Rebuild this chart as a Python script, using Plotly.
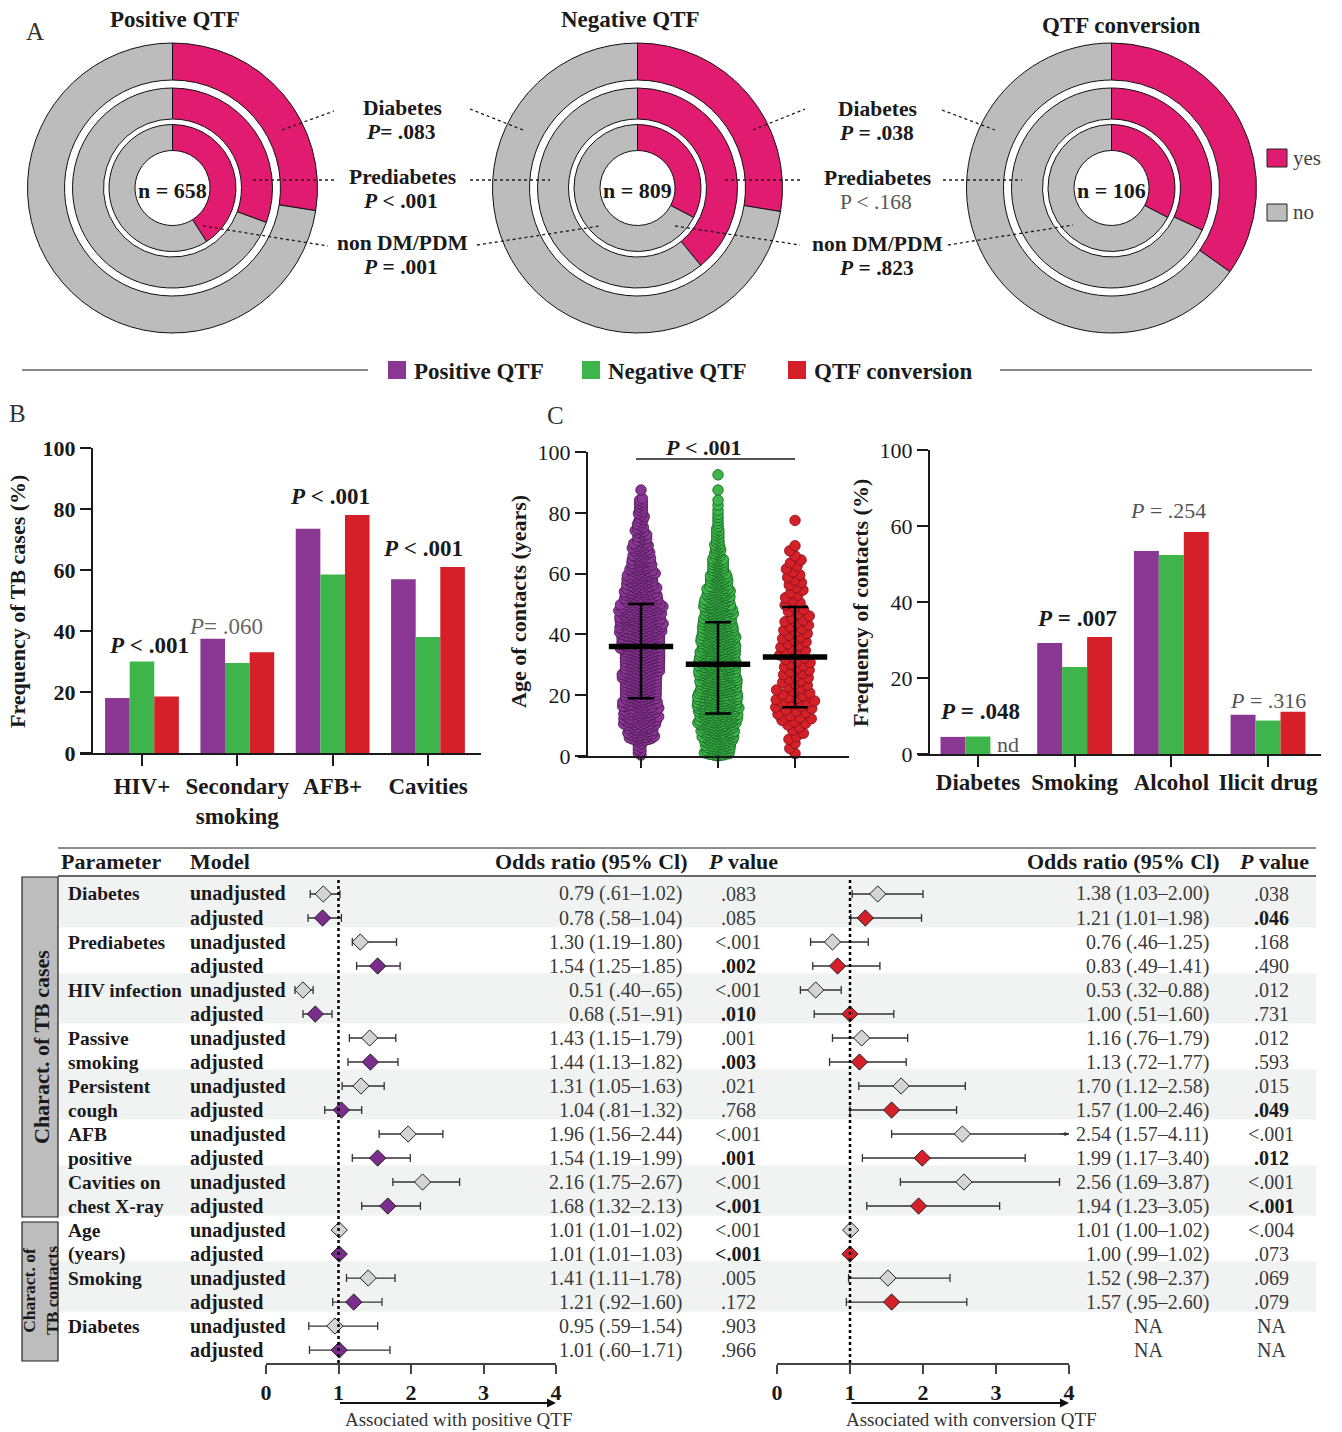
import math
import plotly.graph_objects as go

W, H = 1342, 1432
FONT = "Liberation Serif"
INK = "#1a1a1a"
TXT = "#3a3a3a"
PURPLE = "#8a3793"
GREEN = "#3db54a"
RED = "#d5202a"
PINK = "#e01b70"
GREY = "#bcbcbc"
BAND = "#f1f3f3"

def px(x):
    return x / W

def py(y):
    return 1 - y / H

# ---------------- DATA ----------------
# Panel A : % "yes" for the three rings (outer -> inner)
donut_titles = ["Positive QTF", "Negative QTF", "QTF conversion"]
donut_n = ["658", "809", "106"]
ring_labels = ["Diabetes", "Prediabetes", "non DM/PDM"]
yes_positive = [27.5, 30.6, 41.0]
yes_negative = [27.6, 39.1, 32.7]
yes_conversion = [34.8, 31.9, 32.7]
p_pos_vs_neg = ["<i>P</i>= .083", "<i>P</i> < .001", "<i>P</i> = .001"]
p_neg_vs_conv = ["<i>P</i> = .038", "P < .168", "<i>P</i> = .823"]
p_neg_vs_conv_bold = [True, False, True]

# Panel B : frequency of TB cases (%)
b_categories = ["HIV+", "Secondary<br>smoking", "AFB+", "Cavities"]
b_positive = [18.0, 37.5, 73.5, 57.0]
b_negative = [30.0, 29.5, 58.5, 38.0]
b_conversion = [18.5, 33.0, 78.0, 61.0]
b_pvalues = ["<b><i>P</i> < .001</b>", "<i>P</i>= .060", "<b><i>P</i> < .001</b>", "<b><i>P</i> < .001</b>"]

# Panel C left : age of contacts, counts per 5-year bin (0-5, 5-10, ...)
age_bin_width = 5
age_counts_positive = [8, 38, 48, 48, 50, 52, 55, 58, 62, 60, 48, 40, 32, 24, 15, 10, 9, 1]
age_counts_negative = [50, 62, 74, 78, 74, 72, 72, 68, 62, 56, 46, 36, 26, 14, 9, 5, 3, 1, 1]
age_counts_conversion = [3, 5, 10, 12, 10, 10, 10, 9, 9, 7, 6, 6, 5, 3, 0, 1]
age_mean = [36.0, 30.2, 32.6]
age_sd_low = [19.0, 14.0, 16.0]
age_sd_high = [50.0, 44.0, 49.0]

# Panel C right : frequency of contacts (%)
c_categories = ["Diabetes", "Smoking", "Alcohol", "Ilicit drug"]
c_positive = [4.5, 29.2, 53.4, 10.3]
c_negative = [4.6, 22.9, 52.4, 8.8]
c_conversion = [None, 30.8, 58.4, 11.1]
c_ticks = ["0", "20", "40", "60", "100"]

# Panel D : odds ratios
params = [["Diabetes"], ["Prediabetes"], ["HIV infection"], ["Passive", "smoking"],
          ["Persistent", "cough"], ["AFB", "positive"], ["Cavities on", "chest X-ray"],
          ["Age", "(years)"], ["Smoking"], ["Diabetes"]]
or_left_un = [0.79, 1.30, 0.51, 1.43, 1.31, 1.96, 2.16, 1.01, 1.41, 0.95]
lo_left_un = [0.61, 1.19, 0.40, 1.15, 1.05, 1.56, 1.75, 1.01, 1.11, 0.59]
hi_left_un = [1.02, 1.80, 0.65, 1.79, 1.63, 2.44, 2.67, 1.02, 1.78, 1.54]
or_left_adj = [0.78, 1.54, 0.68, 1.44, 1.04, 1.54, 1.68, 1.01, 1.21, 1.01]
lo_left_adj = [0.58, 1.25, 0.51, 1.13, 0.81, 1.19, 1.32, 1.01, 0.92, 0.60]
hi_left_adj = [1.04, 1.85, 0.91, 1.82, 1.32, 1.99, 2.13, 1.03, 1.60, 1.71]
txt_left_un = ["0.79 (.61–1.02)", "1.30 (1.19–1.80)", "0.51 (.40–.65)", "1.43 (1.15–1.79)",
               "1.31 (1.05–1.63)", "1.96 (1.56–2.44)", "2.16 (1.75–2.67)", "1.01 (1.01–1.02)",
               "1.41 (1.11–1.78)", "0.95 (.59–1.54)"]
txt_left_adj = ["0.78 (.58–1.04)", "1.54 (1.25–1.85)", "0.68 (.51–.91)", "1.44 (1.13–1.82)",
                "1.04 (.81–1.32)", "1.54 (1.19–1.99)", "1.68 (1.32–2.13)", "1.01 (1.01–1.03)",
                "1.21 (.92–1.60)", "1.01 (.60–1.71)"]
p_left_un = [".083", "<.001", "<.001", ".001", ".021", "<.001", "<.001", "<.001", ".005", ".903"]
p_left_adj = [".085", ".002", ".010", ".003", ".768", ".001", "<.001", "<.001", ".172", ".966"]
p_left_adj_bold = [False, True, True, True, False, True, True, True, False, False]

or_right_un = [1.38, 0.76, 0.53, 1.16, 1.70, 2.54, 2.56, 1.01, 1.52, None]
lo_right_un = [1.03, 0.46, 0.32, 0.76, 1.12, 1.57, 1.69, 1.00, 0.98, None]
hi_right_un = [2.00, 1.25, 0.88, 1.79, 2.58, 4.11, 3.87, 1.02, 2.37, None]
or_right_adj = [1.21, 0.83, 1.00, 1.13, 1.57, 1.99, 1.94, 1.00, 1.57, None]
lo_right_adj = [1.01, 0.49, 0.51, 0.72, 1.00, 1.17, 1.23, 0.99, 0.95, None]
hi_right_adj = [1.98, 1.41, 1.60, 1.77, 2.46, 3.40, 3.05, 1.02, 2.60, None]
txt_right_un = ["1.38 (1.03–2.00)", "0.76 (.46–1.25)", "0.53 (.32–0.88)", "1.16 (.76–1.79)",
                "1.70 (1.12–2.58)", "2.54 (1.57–4.11)", "2.56 (1.69–3.87)", "1.01 (1.00–1.02)",
                "1.52 (.98–2.37)", "NA"]
txt_right_adj = ["1.21 (1.01–1.98)", "0.83 (.49–1.41)", "1.00 (.51–1.60)", "1.13 (.72–1.77)",
                 "1.57 (1.00–2.46)", "1.99 (1.17–3.40)", "1.94 (1.23–3.05)", "1.00 (.99–1.02)",
                 "1.57 (.95–2.60)", "NA"]
p_right_un = [".038", ".168", ".012", ".012", ".015", "<.001", "<.001", "<.004", ".069", "NA"]
p_right_adj = [".046", ".490", ".731", ".593", ".049", ".012", "<.001", ".073", ".079", "NA"]
p_right_adj_bold = [True, False, False, False, True, True, True, False, False, False]
forest_ticks = [0, 1, 2, 3, 4]

# ---------------- helpers ----------------
fig = go.Figure()
ann = []
shp = []

def T(x, y, text, size=20, color=INK, xa="center", ya="middle", angle=0,
      xref="paper", yref="paper", bold=False):
    xx = px(x) if xref == "paper" else x
    yy = py(y) if yref == "paper" else y
    if bold:
        text = "<b>" + text + "</b>"
    ann.append(dict(x=xx, y=yy, xref=xref, yref=yref, text=text, showarrow=False,
                    xanchor=xa, yanchor=ya, textangle=angle,
                    font=dict(family=FONT, size=size, color=color)))

def L(x0, y0, x1, y1, color=INK, width=1.2, dash=None):
    line = dict(color=color, width=width)
    if dash:
        line["dash"] = dash
    shp.append(dict(type="line", xref="paper", yref="paper", x0=px(x0), y0=py(y0),
                    x1=px(x1), y1=py(y1), line=line))

def R(x0, y0, x1, y1, fill, line_color=None, width=1, layer="above"):
    shp.append(dict(type="rect", xref="paper", yref="paper", x0=px(x0), y0=py(y1),
                    x1=px(x1), y1=py(y0), fillcolor=fill, layer=layer,
                    line=dict(color=line_color or fill, width=width if line_color else 0)))

# ---------------- Panel A ----------------
centers = [(172.5, 188), (637.5, 188), (1111.5, 188)]
ring_radii = [(145, 108), (100, 69), (63.5, 37.5)]
yes_sets = [yes_positive, yes_negative, yes_conversion]
for di, (cx, cy) in enumerate(centers):
    for ri, (ro, rin) in enumerate(ring_radii):
        v = yes_sets[di][ri]
        fig.add_trace(go.Pie(
            values=[v, 100 - v], labels=["yes", "no"], hole=rin / ro, sort=False,
            direction="clockwise", rotation=0, textinfo="none", showlegend=False,
            marker=dict(colors=[PINK, GREY], line=dict(color="#111", width=1)),
            domain=dict(x=[px(cx - ro), px(cx + ro)], y=[py(cy + ro), py(cy - ro)])))
    T(cx, cy + 2, "n = " + donut_n[di], size=22, bold=True)

T(175, 19, donut_titles[0], size=23, bold=True)
T(630, 19, donut_titles[1], size=23, bold=True)
T(1121, 25, donut_titles[2], size=23, bold=True)
T(35, 32, "A", size=25, color="#333")

label_y = [108, 177, 243]
p_y = [132, 201, 267]
for i in range(3):
    T(402, label_y[i], ring_labels[i], size=21.5, bold=True)
    T(401, p_y[i], p_pos_vs_neg[i], size=21.5, bold=True)
    T(877, label_y[i] + 1, ring_labels[i], size=21.5, bold=True)
    T(876, p_y[i] + 1, p_neg_vs_conv[i], size=21.5, bold=p_neg_vs_conv_bold[i],
      color=INK if p_neg_vs_conv_bold[i] else "#555")

leaders = [
    (282, 130, 334, 111), (253, 180, 334, 180), (203, 226, 328, 246),
    (470, 109, 523, 130), (470, 180, 550, 180), (477, 245, 600, 226),
    (753, 130, 805, 109), (725, 180, 803, 180), (675, 226, 800, 245),
    (942, 110, 995, 130), (943, 180, 1022, 180), (948, 245, 1073, 225),
]
for (x0, y0, x1, y1) in leaders:
    L(x0, y0, x1, y1, width=1.3, dash="dot")

R(1267, 149, 1287, 167, PINK, "#222", 1)
R(1267, 204, 1287, 221, GREY, "#222", 1)
T(1291, 158, "yes", size=21, color="#444", xa="left")
T(1291, 212, "no", size=21, color="#444", xa="left")

# group legend row
L(22, 370, 368, 370, width=1.2)
L(1000, 370, 1312, 370, width=1.2)
for x0, col, name in [(388, PURPLE, "Positive QTF"), (582, GREEN, "Negative QTF"),
                      (788, RED, "QTF conversion")]:
    R(x0, 361, x0 + 18, 379, col)
    T(x0 + 24, 371, name, size=23, bold=True, xa="left")

# ---------------- Panel B ----------------
for vals, col in [(b_positive, PURPLE), (b_negative, GREEN), (b_conversion, RED)]:
    fig.add_trace(go.Bar(x=list(range(len(b_categories))), y=vals, marker_color=col,
                         marker_line_width=0, xaxis="x", yaxis="y", showlegend=False))
T(17, 413, "B", size=25, color="#333")
T(18, 602, "Frequency of TB cases (%)", size=22, bold=True, angle=-90)
b_p_pos = [(149, 645), (226, 626), (330, 497), (423, 548)]
for (x, y), t in zip(b_p_pos, b_pvalues):
    T(x, y, t, size=23, color=INK if t.startswith("<b>") else "#666")

# ---------------- Panel C left (swarm) ----------------
Y_PX_PER_YEAR = 3.04
X_PX_PER_GROUP = 77.0

def ages_from_counts(counts):
    ages = []
    for k, n in enumerate(counts):
        a0 = k * age_bin_width
        for i in range(n):
            ages.append(a0 + (i + 0.5) * age_bin_width / n)
    return ages

def beeswarm(ages, d):
    order = sorted(range(len(ages)), key=lambda i: ages[i])
    placed = []
    xs = [0.0] * len(ages)
    for idx in order:
        y = ages[idx] * Y_PX_PER_YEAR
        ivs = []
        for (xj, yj) in reversed(placed):
            dy = y - yj
            if dy >= d:
                break
            dx = math.sqrt(d * d - dy * dy)
            ivs.append((xj - dx, xj + dx))
        cands = sorted([0.0] + [v for iv in ivs for v in iv], key=abs)
        xsel = 0.0
        for c in cands:
            if all(not (lo + 1e-7 < c < hi - 1e-7) for lo, hi in ivs):
                xsel = c
                break
        placed.append((xsel, y))
        xs[idx] = xsel
    return xs

swarm_specs = [
    (age_counts_positive, PURPLE, "#4a1652", 3.3),
    (age_counts_negative, GREEN, "#176322", 2.8),
    (age_counts_conversion, RED, "#7d1016", 7.3),
]
for g, (counts, fill, edge, d) in enumerate(swarm_specs):
    ages = ages_from_counts(counts)
    offs = beeswarm(ages, d)
    fig.add_trace(go.Scatter(
        x=[g + o / X_PX_PER_GROUP for o in offs], y=ages, mode="markers",
        marker=dict(size=10.5, color=fill, line=dict(color=edge, width=0.8)),
        xaxis="x2", yaxis="y2", showlegend=False, cliponaxis=False, hoverinfo="y"))

fig.add_trace(go.Scatter(
    x=[0, 1, 2], y=age_mean, mode="markers", xaxis="x2", yaxis="y2", showlegend=False,
    cliponaxis=False,
    marker=dict(symbol="line-ew", size=46, color="black", line=dict(color="black", width=5.5)),
    error_y=dict(type="data", symmetric=False,
                 array=[h - m for h, m in zip(age_sd_high, age_mean)],
                 arrayminus=[m - l for m, l in zip(age_mean, age_sd_low)],
                 color="black", thickness=2.5, width=13)))
T(555, 415, "C", size=25, color="#333")
T(519, 602, "Age of contacts (years)", size=22, bold=True, angle=-90)
L(636, 459, 795, 459, width=1.5)
T(703, 447, "<i>P</i> < .001", size=22, bold=True)

# ---------------- Panel C right ----------------
for vals, col in [(c_positive, PURPLE), (c_negative, GREEN), (c_conversion, RED)]:
    fig.add_trace(go.Bar(x=list(range(len(c_categories))), y=vals, marker_color=col,
                         marker_line_width=0, xaxis="x3", yaxis="y3", showlegend=False))
T(860, 603, "Frequency of contacts (%)", size=22, bold=True, angle=-90)
T(980, 711, "<b><i>P</i> = .048</b>", size=23)
T(1008, 745, "nd", size=22, color="#555")
T(1077, 618, "<b><i>P</i> = .007</b>", size=23)
T(1168, 510, "<i>P</i> = .254", size=22, color="#555")
T(1268, 700, "<i>P</i> = .316", size=22, color="#555")

# ---------------- Panel D (forest table) ----------------
n_par = len(params)
for p in range(0, n_par, 2):
    shp.append(dict(type="rect", xref="paper", yref="y4", x0=px(58), x1=px(1316),
                    y0=2 * p - 0.7, y1=2 * p + 1.4, fillcolor=BAND, layer="below",
                    line=dict(width=0)))
L(58, 848, 1316, 848, width=1.2)
L(58, 876, 1316, 876, color="#666", width=2)
T(59, 861, "Parameter", size=22, bold=True, xa="left")
T(188, 861, "Model", size=22, bold=True, xa="left")
T(690, 861, "Odds ratio (95% Cl)", size=22, bold=True, xa="right")
T(706, 861, "<i>P</i> value", size=22, bold=True, xa="left")
T(1222, 861, "Odds ratio (95% Cl)", size=22, bold=True, xa="right")
T(1237, 861, "<i>P</i> value", size=22, bold=True, xa="left")

R(22, 877, 58, 1217, "#bdbdbd", "#222", 1.2)
R(22, 1222, 58, 1361, "#bdbdbd", "#222", 1.2)
T(41, 1047, "Charact. of TB cases", size=22, bold=True, angle=-90)
T(40, 1291, "Charact. of<br>TB contacts", size=17.5, bold=True, angle=-90)

for k in range(n_par):
    ru, ra = 2 * k, 2 * k + 1
    for j, line in enumerate(params[k]):
        T(66, ru + j, line, size=19.5, bold=True, xa="left", yref="y4")
    T(188, ru, "unadjusted", size=20, bold=True, xa="left", yref="y4")
    T(188, ra, "adjusted", size=20, bold=True, xa="left", yref="y4")
    T(684, ru, txt_left_un[k], size=20, color=TXT, xa="right", yref="y4")
    T(684, ra, txt_left_adj[k], size=20, color=TXT, xa="right", yref="y4")
    T(738, ru, p_left_un[k], size=20, color=TXT, yref="y4")
    T(738, ra, p_left_adj[k], size=20, bold=p_left_adj_bold[k],
      color=INK if p_left_adj_bold[k] else TXT, yref="y4")
    if txt_right_un[k] == "NA":
        T(1148, ru, "NA", size=20, color=TXT, yref="y4")
        T(1148, ra, "NA", size=20, color=TXT, yref="y4")
    else:
        T(1211, ru, txt_right_un[k], size=20, color=TXT, xa="right", yref="y4")
        T(1211, ra, txt_right_adj[k], size=20, color=TXT, xa="right", yref="y4")
    T(1271, ru, p_right_un[k], size=20, color=TXT, yref="y4")
    T(1271, ra, p_right_adj[k], size=20, bold=p_right_adj_bold[k],
      color=INK if p_right_adj_bold[k] else TXT, yref="y4")

def err(o, hi):
    return [None if a is None else h - a for a, h in zip(o, hi)]

def errm(o, lo):
    return [None if a is None else a - l for a, l in zip(o, lo)]

rows_un = [2 * k for k in range(n_par)]
rows_adj = [2 * k + 1 for k in range(n_par)]
forest_sets = [
    ("x4", or_left_un, lo_left_un, hi_left_un, rows_un, "#d4d4d4"),
    ("x4", or_left_adj, lo_left_adj, hi_left_adj, rows_adj, "#7b2c8c"),
    ("x5", or_right_un, lo_right_un, hi_right_un, rows_un, "#d4d4d4"),
    ("x5", or_right_adj, lo_right_adj, hi_right_adj, rows_adj, RED),
]
for xa_, o, lo, hi, rows, col in forest_sets:
    fig.add_trace(go.Scatter(
        x=o, y=rows, mode="markers", xaxis=xa_, yaxis="y4", showlegend=False,
        marker=dict(symbol="diamond", size=12.5, color=col, line=dict(color="#222", width=1)),
        error_x=dict(type="data", symmetric=False, array=err(o, hi), arrayminus=errm(o, lo),
                     color="#333", thickness=1.3, width=4)))

for xr in ["x4", "x5"]:
    shp.append(dict(type="line", xref=xr, yref="paper", x0=1, x1=1, y0=py(1363), y1=py(877),
                    line=dict(color="black", width=2.5, dash="dot")))
# arrow for CI beyond axis (AFB unadjusted, conversion)
ann.append(dict(x=4, y=10, xref="x5", yref="y4", ax=-10, ay=0, text="", showarrow=True,
                arrowhead=2, arrowsize=0.7, arrowwidth=1.3, arrowcolor="#333"))
for xr, label, cxp in [("x4", "Associated with positive QTF", 458),
                       ("x5", "Associated with conversion QTF", 971)]:
    ann.append(dict(x=4, y=py(1403), xref=xr, yref="paper", ax=1, ay=0,
                    axref=xr, ayref="pixel", text="", showarrow=True, arrowhead=2,
                    arrowsize=1, arrowwidth=1.8, arrowcolor="#111", standoff=0))
    T(cxp, 1419, label, size=19, color="#333")

# ---------------- layout ----------------
def axis(**kw):
    d = dict(showgrid=False, zeroline=False, showline=True, linecolor=INK, linewidth=2,
             ticks="outside", tickcolor=INK, tickwidth=2, ticklen=11, automargin=False,
             tickfont=dict(family=FONT, size=22, color=INK))
    d.update(kw)
    return d

bold_font = dict(family=FONT, size=23, color=INK, weight="bold")
fig.update_layout(
    width=W, height=H, margin=dict(l=0, r=0, t=0, b=0, pad=0, autoexpand=False), autosize=False,
    paper_bgcolor="white", plot_bgcolor="rgba(0,0,0,0)",
    barmode="group", bargap=0.226, bargroupgap=0,
    showlegend=False,
    xaxis=axis(domain=[px(80), px(481)], range=[-0.65, 3.556], anchor="y",
               tickvals=list(range(4)), ticktext=b_categories, tickfont=bold_font),
    yaxis=axis(domain=[py(753), py(448)], range=[0, 100], anchor="free", position=px(92),
               tickvals=[0, 20, 40, 60, 80, 100],
               tickfont=dict(family=FONT, size=22, color=INK, weight="bold")),
    xaxis2=axis(domain=[px(578), px(849)], range=[-0.818, 2.701], anchor="y2",
                tickvals=[0, 1, 2], showticklabels=False, ticklen=10),
    yaxis2=axis(domain=[py(756), py(452)], range=[0, 100], anchor="free", position=px(587),
                tickvals=[0, 20, 40, 60, 80, 100]),
    xaxis3=axis(domain=[px(918), px(1321)], range=[-0.62, 3.548], anchor="y3",
                tickvals=list(range(4)), ticktext=c_categories, tickfont=bold_font,
                ticklabelstandoff=-5),
    yaxis3=axis(domain=[py(754), py(450)], range=[0, 80], anchor="free", position=px(929),
                tickvals=[0, 20, 40, 60, 80], ticktext=c_ticks),
    xaxis4=axis(domain=[px(266), px(556)], range=[0, 4], anchor="y4", tickvals=forest_ticks,
                linewidth=1.5, tickwidth=1.5, ticklen=9, linecolor="#444", tickcolor="#444",
                tickfont=dict(family=FONT, size=22, color=INK, weight="bold")),
    xaxis5=axis(domain=[px(777), px(1069)], range=[0, 4], anchor="y4", tickvals=forest_ticks,
                linewidth=1.5, tickwidth=1.5, ticklen=9, linecolor="#444", tickcolor="#444",
                tickfont=dict(family=FONT, size=22, color=INK, weight="bold")),
    yaxis4=dict(domain=[py(1363), py(877)], range=[19.54, -0.708], anchor="x4", automargin=False,
                showline=False, showticklabels=False, ticks="", showgrid=False, zeroline=False),
    annotations=ann,
    shapes=shp,
)

fig.write_html("out.html", config={"displayModeBar": False},
               post_script="document.body.style.margin='0px';")
